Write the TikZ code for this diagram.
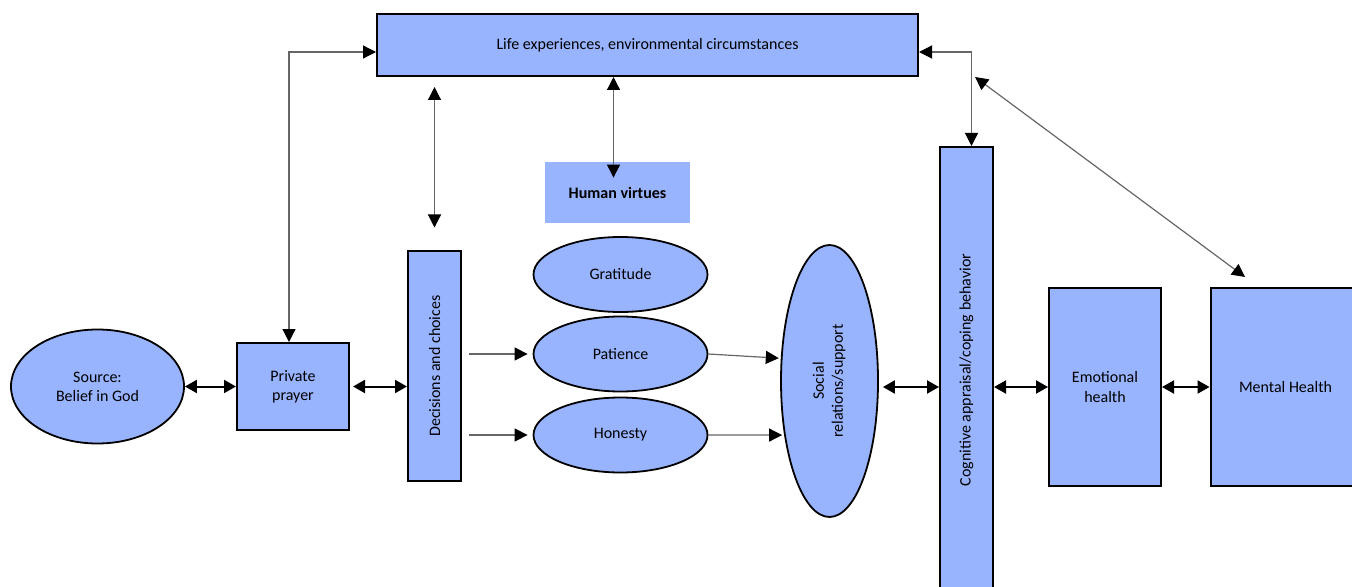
\documentclass[tikz,border=0pt]{standalone}
\usepackage{fontspec}
\setmainfont{Carlito}
\usetikzlibrary{arrows.meta,shapes.geometric}
\definecolor{boxblue}{RGB}{153,180,255}
\begin{document}
\begin{tikzpicture}[x=0.5pt,y=-0.5pt,
  every node/.style={font=\fontsize{8}{9.6}\selectfont, inner sep=0pt, text=black},
  rbox/.style={draw=black, line width=1pt, fill=boxblue, rectangle},
  ebox/.style={draw=black, line width=0.9pt, fill=boxblue, ellipse},
  one/.style={draw=black!60, line width=0.6pt, -{Triangle[length=6.5pt,width=6.5pt,color=black]}},
  two/.style={draw=black!60, line width=0.6pt, {Triangle[length=6.5pt,width=6.5pt,color=black]}-{Triangle[length=6.5pt,width=6.5pt,color=black]}},
  rowtwo/.style={draw=black, line width=1pt, {Triangle[length=6pt,width=6.5pt]}-{Triangle[length=6pt,width=6.5pt]}}
]
\useasboundingbox (0,0) rectangle (1352,587);
\clip (0,0) rectangle (1352,587);

\node[rbox, minimum width=270.5pt, minimum height=31pt] (life) at (647.5,45) {Life experiences, environmental circumstances};
\node[fill=boxblue, minimum width=72.5pt, minimum height=30.5pt, font=\fontsize{8}{9.6}\selectfont\bfseries] (hv) at (617.5,192.5) {Human virtues};
\node[rbox, minimum width=26.5pt, minimum height=114.5pt] (dec) at (434.5,366) {\rotatebox{90}{Decisions and choices}};
\node[ebox, minimum width=87pt, minimum height=37.5pt] (grat) at (620.5,274.5) {Gratitude};
\node[ebox, minimum width=87pt, minimum height=37.5pt] (pat) at (620.5,354) {Patience};
\node[ebox, minimum width=87pt, minimum height=37.5pt] (hon) at (620.5,435) {Honesty};
\node[ebox, minimum width=86.5pt, minimum height=57pt, align=center] (src) at (97.5,386.5) {Source:\\Belief in God};
\node[rbox, minimum width=56pt, minimum height=43.5pt, align=center] (pp) at (293,386.5) {Private\\prayer};
\node[ebox, minimum width=48.5pt, minimum height=136pt] (soc) at (829.5,381) {\rotatebox{90}{\begin{tabular}{@{}c@{}}Social\\relations/support\end{tabular}}};
\node[rbox, minimum width=26.5pt, minimum height=223pt] (cog) at (966.5,370) {\rotatebox{90}{Cognitive appraisal/coping behavior}};
\node[rbox, minimum width=56pt, minimum height=99pt, align=center] (emo) at (1105,387) {Emotional\\health};
\node[rbox, minimum width=75pt, minimum height=99pt] (mh) at (1285.5,387) {Mental Health};

% top connectors
\draw[two] ([xshift=-2pt]pp.north) |- ([yshift=-3.5pt]life.west);
\draw[two] ([xshift=2.5pt]cog.north) |- ([yshift=-3.5pt]life.east);
\draw[two, shorten <=11.5pt, shorten >=5pt] (dec.north) -- (dec.north |- life.south);
\coordinate (hvtop) at ([xshift=-2pt,yshift=-8pt]hv.north);
\draw[two] (hvtop |- life.south) -- (hvtop);
\coordinate (d1) at (975,77);
\coordinate (d2) at (1245,277);
\draw[two] (d1) -- (d2);

% row
\draw[rowtwo] (src.east) -- (pp.west);
\draw[rowtwo, shorten <=1.5pt] (pp.east) -- (pp.east -| dec.west);
\draw[one, shorten >=2.5pt] ([xshift=3.5pt]dec.east |- pat.west) -- (pat.west);
\draw[one, shorten >=2.5pt] ([xshift=3.5pt]dec.east |- hon.west) -- (hon.west);
\draw[one, shorten >=1pt] (pat.east) -- (soc.155);
\draw[one, shorten >=1pt] (hon.east) -- (soc.230);
\draw[rowtwo, shorten <=2pt] (soc.east |- emo.west) -- (cog.west |- emo.west);
\draw[rowtwo] (cog.east |- emo.west) -- (emo.west);
\draw[rowtwo] (emo.east) -- (mh.west);
\end{tikzpicture}
\end{document}
